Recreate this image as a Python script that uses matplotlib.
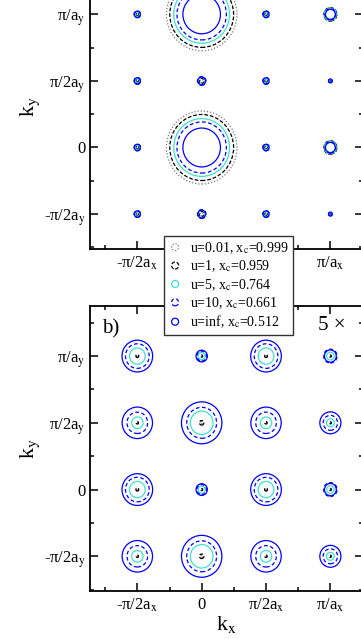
import matplotlib
matplotlib.use("Agg")
import matplotlib.pyplot as plt
import matplotlib.patches as mpatches
from matplotlib.legend_handler import HandlerPatch
from matplotlib.ticker import FixedLocator, MultipleLocator

plt.rcParams['font.family'] = ['Liberation Serif', 'DejaVu Serif']
plt.rcParams['mathtext.fontset'] = 'stix'

# pocket centres (units of pi)
kx_centers = [-0.5, 0.0, 0.5, 1.0]
ky_centers = [1.0, 0.5, 0.0, -0.5]

# series (draw order: first one at the bottom)
series_labels = ['u=0.01, x$_\\mathrm{c}$=0.999', 'u=1, x$_\\mathrm{c}$=0.959',
                 'u=5, x$_\\mathrm{c}$=0.764', 'u=10, x$_\\mathrm{c}$=0.661',
                 'u=inf, x$_\\mathrm{c}$=0.512']
series_colors = ['#7a7a7a', 'black', '#40e0d0', 'blue', 'blue']
series_styles = [(0, (1, 1.5)), (0, (3, 1.5)), '-', (0, (3, 2)), '-']

# pocket radii (units of pi); rows = ky_centers, columns = kx_centers
# panel a)
ra_u001 = [[0.008, 0.274, 0.008, 0.052],
           [0.008, 0.012, 0.008, 0.005],
           [0.008, 0.274, 0.008, 0.052],
           [0.008, 0.012, 0.008, 0.005]]
ra_u1 = [[0.012, 0.248, 0.012, 0.050],
         [0.012, 0.020, 0.012, 0.007],
         [0.012, 0.248, 0.012, 0.050],
         [0.012, 0.020, 0.012, 0.007]]
ra_u5 = [[0.018, 0.217, 0.018, 0.046],
         [0.018, 0.028, 0.018, 0.010],
         [0.018, 0.217, 0.018, 0.046],
         [0.018, 0.028, 0.018, 0.010]]
ra_u10 = [[0.025, 0.192, 0.025, 0.042],
          [0.025, 0.033, 0.025, 0.013],
          [0.025, 0.192, 0.025, 0.042],
          [0.025, 0.033, 0.025, 0.013]]
ra_uinf = [[0.024, 0.146, 0.024, 0.038],
           [0.024, 0.030, 0.024, 0.015],
           [0.024, 0.146, 0.024, 0.038],
           [0.024, 0.030, 0.024, 0.015]]

# panel b)
rb_u001 = [[0.006, 0.004, 0.006, 0.004],
           [0.004, 0.008, 0.004, 0.004],
           [0.006, 0.004, 0.006, 0.004],
           [0.004, 0.008, 0.004, 0.004]]
rb_u1 = [[0.011, 0.008, 0.011, 0.008],
         [0.009, 0.017, 0.009, 0.008],
         [0.011, 0.008, 0.011, 0.008],
         [0.009, 0.017, 0.009, 0.008]]
rb_u5 = [[0.061, 0.027, 0.061, 0.029],
         [0.044, 0.088, 0.044, 0.030],
         [0.061, 0.027, 0.061, 0.029],
         [0.044, 0.088, 0.044, 0.030]]
rb_u10 = [[0.092, 0.037, 0.092, 0.052],
          [0.080, 0.116, 0.080, 0.056],
          [0.092, 0.037, 0.092, 0.052],
          [0.080, 0.116, 0.080, 0.056]]
rb_uinf = [[0.119, 0.044, 0.119, 0.046],
           [0.118, 0.157, 0.118, 0.082],
           [0.119, 0.044, 0.119, 0.046],
           [0.118, 0.157, 0.118, 0.082]]

x_ticks = [-0.5, 0.0, 0.5, 1.0]
x_ticklabels = ['-π/2a$_\\mathrm{x}$', '0', 'π/2a$_\\mathrm{x}$', 'π/a$_\\mathrm{x}$']
# top panel: middle labels sit behind the legend
x_ticklabels_top = ['-π/2a$_\\mathrm{x}$', '', '', 'π/a$_\\mathrm{x}$']
y_ticks = [-0.5, 0.0, 0.5, 1.0]
y_ticklabels = ['-π/2a$_\\mathrm{y}$', '0', 'π/2a$_\\mathrm{y}$', 'π/a$_\\mathrm{y}$']


def draw_panel(ax, radii_sets, xlabels, show_xlabel=True):
    for radii, col, ls in zip(radii_sets, series_colors, series_styles):
        for i, ky in enumerate(ky_centers):
            for j, kx in enumerate(kx_centers):
                ax.add_patch(mpatches.Circle((kx, ky), radii[i][j], fill=False,
                                             edgecolor=col, linestyle=ls, lw=0.9))
    ax.set_xlim(-0.87, 1.255)
    ax.set_ylim(-0.76, 1.375)
    ax.xaxis.set_major_locator(FixedLocator(x_ticks))
    ax.yaxis.set_major_locator(FixedLocator(y_ticks))
    ax.xaxis.set_minor_locator(MultipleLocator(0.25))
    ax.yaxis.set_minor_locator(MultipleLocator(0.25))
    ax.set_xticklabels(xlabels, fontsize=12)
    ax.set_yticklabels(y_ticklabels, fontsize=12)
    ax.tick_params(which='both', direction='in', top=True, right=True, width=1.1)
    ax.tick_params(which='major', length=5.5)
    ax.tick_params(which='minor', length=3.2)
    ax.tick_params(axis='x', pad=4)
    ax.tick_params(axis='y', pad=3)
    for sp in ax.spines.values():
        sp.set_linewidth(1.3)
    if show_xlabel:
        ax.set_xlabel('k$_\\mathrm{x}$', fontsize=16, labelpad=0)
    ax.set_ylabel('k$_\\mathrm{y}$', fontsize=16, labelpad=1)


fig = plt.figure(figsize=(3.61, 6.39), dpi=100)
ax_a = fig.add_axes([0.2485, 0.6108, 0.7576, 0.4449])
ax_b = fig.add_axes([0.2485, 0.0751, 0.7576, 0.4460])

draw_panel(ax_a, [ra_u001, ra_u1, ra_u5, ra_u10, ra_uinf], x_ticklabels_top, show_xlabel=False)
draw_panel(ax_b, [rb_u001, rb_u1, rb_u5, rb_u10, rb_uinf], x_ticklabels)

ax_b.text(0.045, 0.955, 'b)', transform=ax_b.transAxes, fontsize=15, va='top', ha='left')
fig.text(318 / 361, 1 - 325 / 639, '5 ×', fontsize=15, va='center', ha='left')


def make_circle(legend, orig_handle, xdescent, ydescent, width, height, fontsize):
    return mpatches.Circle((width / 2 - xdescent, height / 2 - ydescent), 0.36 * height)


handles = [mpatches.Circle((0, 0), 1, fill=False, edgecolor=c, linestyle=s, lw=0.9)
           for c, s in zip(series_colors, series_styles)]
leg = fig.legend(handles, series_labels, loc='upper left',
                 bbox_to_anchor=(164 / 361, 1 - 236 / 639), borderaxespad=0,
                 fontsize=10, frameon=True, fancybox=False, framealpha=1,
                 edgecolor='#333333', borderpad=0.3, handlelength=1.0,
                 handletextpad=0.6, labelspacing=0.2,
                 handler_map={mpatches.Circle: HandlerPatch(patch_func=make_circle)})
leg.get_frame().set_linewidth(1.0)

fig.savefig('out.png', dpi=100)
